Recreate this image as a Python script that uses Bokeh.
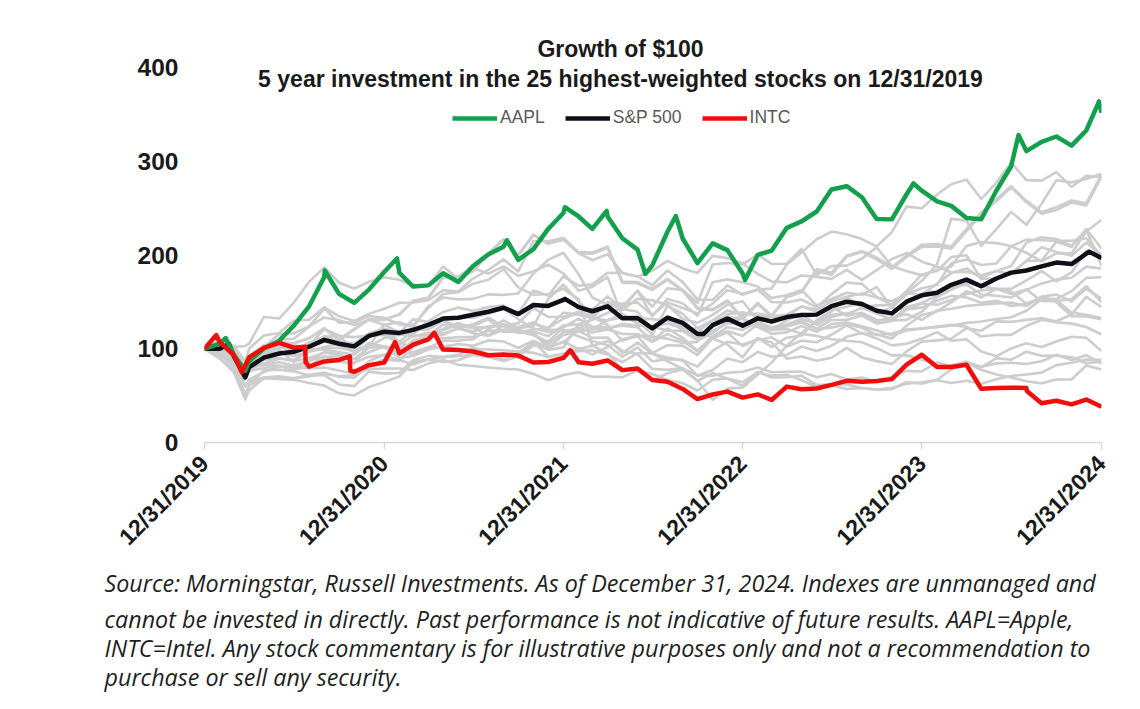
import math
import pandas as pd
from bokeh.plotting import figure
from bokeh.models import (ColumnDataSource, FixedTicker, Label, Legend, LegendItem,
                          Range1d, DatetimeTickFormatter, Title)
from bokeh.embed import file_html
from bokeh.resources import INLINE

# ---------------- data: growth of $100, month ends 12/2019 ... 12/2024 ----------------
AAPL = [100.0,
        105.4, 93.2, 86.7, 100.3, 108.6, 124.6, 145.3, 176.5, 158.5, 149.0, 163.1, 181.8,
        180.9, 166.3, 167.6, 180.5, 171.2, 188.2, 200.6, 208.9, 194.8, 206.3, 227.8, 244.8,
        241.1, 227.9, 241.1, 217.8, 205.7, 189.0, 224.8, 217.6, 191.4, 212.4, 205.2, 180.2,
        200.2, 204.6, 229.0, 235.8, 246.4, 269.8, 273.4, 261.6, 238.5, 238.0, 264.8, 268.6,
        257.3, 252.4, 239.5, 238.1, 268.8, 294.7, 310.8, 320.7, 326.4, 316.7, 332.8, 351.7]
AAPL_extra_dates = ["2020-02-12", "2020-03-23", "2020-09-01", "2021-01-26", "2021-09-07",
                    "2022-01-03", "2022-03-29", "2022-06-16", "2022-08-17", "2023-01-05",
                    "2023-12-14", "2024-07-15", "2024-12-26"]
AAPL_extra = [111.4, 76.5, 183.5, 196.3, 215.7, 251.0, 247.1, 179.8, 241.6, 173.4,
              276.3, 328.0, 363.8]

SPX = [100.0,
       100.0, 91.7, 80.3, 90.6, 94.9, 96.7, 102.2, 109.5, 105.3, 102.5, 113.7, 118.1,
       116.9, 120.1, 125.4, 132.2, 133.1, 136.2, 139.5, 143.7, 137.0, 146.7, 145.7, 152.2,
       144.4, 140.0, 145.2, 132.6, 132.8, 121.8, 133.1, 127.6, 115.8, 125.2, 132.1, 124.5,
       132.4, 129.1, 133.8, 135.9, 136.4, 145.4, 150.1, 147.7, 140.6, 137.7, 150.2, 157.0,
       159.7, 168.2, 173.7, 166.7, 174.9, 181.2, 183.5, 187.9, 191.9, 190.3, 201.4, 196.7]
SPX_extra_dates = ["2020-02-19", "2020-03-23", "2022-01-03", "2022-10-12", "2024-12-06"]
SPX_extra = [105.1, 69.5, 153.2, 115.7, 203.5]

INTC = [100.0,
        107.0, 93.1, 91.0, 101.0, 106.2, 101.2, 80.9, 86.5, 88.1, 75.5, 82.5, 85.2,
        95.1, 104.3, 110.0, 99.1, 98.6, 97.1, 93.1, 93.9, 92.7, 85.4, 85.9, 90.2,
        85.7, 84.0, 87.5, 77.2, 78.9, 66.6, 64.9, 57.1, 46.3, 51.2, 54.3, 47.9,
        51.3, 45.4, 59.6, 56.8, 57.6, 61.4, 65.8, 64.8, 65.7, 67.6, 83.0, 93.6,
        80.5, 80.6, 82.9, 57.3, 58.1, 58.5, 58.1, 41.8, 44.5, 40.7, 45.8, 38.2]
INTC_extra_dates = ["2020-01-24", "2020-03-16", "2020-07-23", "2020-07-24", "2020-10-22",
                    "2020-10-23", "2021-01-22", "2021-04-12", "2022-01-14", "2024-08-01"]
INTC_extra = [114.6, 75.0, 102.2, 85.6, 91.9, 76.7, 107.0, 117.0, 98.5, 55.0]

# the other 23 of the 25 highest-weighted stocks (grey)
MSFT = [100,
        108.1, 102.9, 100.3, 114.1, 116.8, 129.8, 130.9, 144.2, 134.6, 129.7, 137.2, 142.7,
        149.0, 149.4, 151.7, 162.5, 161.0, 174.9, 184.1, 195.3, 182.5, 214.9, 214.5, 218.4,
        202.1, 194.4, 200.8, 180.9, 177.4, 167.7, 183.5, 171.1, 152.6, 152.2, 167.5, 157.5,
        163.0, 164.2, 189.9, 202.6, 216.8, 225.0, 222.2, 217.0, 209.2, 224.3, 251.6, 249.9,
        264.5, 275.4, 280.4, 259.7, 277.2, 298.7, 279.9, 279.3, 288.4, 272.6, 284.4, 283.3]
AMZN = [100,
        108.7, 101.9, 105.5, 133.9, 132.2, 149.3, 171.3, 186.8, 170.4, 164.3, 171.4, 176.3,
        173.5, 167.4, 167.4, 187.7, 174.4, 186.2, 180.1, 187.8, 177.8, 182.5, 189.8, 180.5,
        161.9, 166.2, 176.4, 134.5, 130.1, 115.0, 146.1, 137.2, 122.3, 110.9, 104.5, 90.9,
        111.6, 102.0, 111.8, 114.1, 130.5, 141.1, 144.7, 149.4, 137.6, 144.1, 158.1, 164.5,
        168.0, 191.3, 195.2, 189.4, 191.0, 209.2, 202.4, 193.2, 201.7, 201.8, 225.0, 237.5]
META = [100,
        98.4, 93.8, 81.3, 99.7, 109.7, 110.6, 123.6, 142.8, 127.6, 128.2, 134.9, 133.1,
        125.9, 125.5, 143.5, 158.4, 160.2, 169.4, 173.6, 184.8, 165.4, 157.6, 158.1, 163.9,
        152.6, 102.8, 108.3, 97.7, 94.3, 78.6, 77.5, 79.4, 66.1, 45.4, 57.5, 58.6,
        72.6, 85.2, 103.3, 117.1, 129.0, 139.8, 155.2, 144.2, 146.3, 146.8, 159.4, 172.5,
        190.1, 238.8, 236.6, 209.8, 227.7, 246.0, 232.2, 254.7, 279.8, 277.5, 281.0, 286.8]
BRKB = [100,
        99.1, 91.1, 80.7, 82.7, 81.9, 78.8, 86.4, 96.3, 94.0, 89.1, 101.2, 102.4,
        100.6, 106.2, 112.8, 121.4, 127.6, 122.7, 122.9, 126.2, 120.5, 126.7, 122.2, 132.0,
        138.2, 142.0, 155.8, 142.5, 139.5, 120.5, 132.5, 124.0, 117.9, 130.3, 140.7, 136.4,
        137.5, 134.7, 136.3, 145.1, 141.7, 150.6, 155.4, 159.0, 154.7, 150.7, 158.9, 157.5,
        169.4, 180.7, 185.7, 175.2, 183.0, 179.6, 193.6, 208.3, 203.2, 199.1, 213.3, 200.1]
JPM = [100,
       95.2, 83.7, 65.1, 69.4, 70.6, 68.5, 70.5, 73.3, 70.6, 72.0, 86.8, 93.8,
       95.2, 109.1, 113.1, 114.6, 122.6, 116.4, 113.9, 120.3, 123.3, 128.3, 120.2, 120.1,
       113.0, 108.1, 104.1, 91.4, 101.5, 86.6, 88.9, 87.9, 80.9, 97.7, 107.5, 104.5,
       109.3, 112.2, 102.2, 108.7, 106.9, 114.9, 125.0, 116.1, 115.3, 110.8, 124.6, 136.1,
       139.8, 149.5, 161.3, 154.7, 163.9, 163.9, 172.8, 182.9, 172.0, 181.4, 204.5, 196.7]
GOOGL = [100,
         107.0, 100.0, 86.8, 100.6, 106.7, 105.9, 111.1, 121.7, 109.4, 120.7, 131.0, 130.8,
         136.4, 151.0, 154.0, 175.7, 176.0, 182.3, 201.2, 216.1, 199.6, 221.1, 211.9, 216.3,
         202.0, 201.4, 207.7, 170.4, 169.9, 162.7, 173.7, 161.6, 142.8, 141.1, 150.8, 131.7,
         147.6, 134.5, 154.9, 160.3, 183.5, 178.7, 198.2, 203.3, 195.4, 185.3, 197.9, 208.6,
         209.2, 206.7, 225.4, 243.1, 257.6, 272.3, 256.3, 244.1, 248.0, 255.9, 252.8, 283.4]
GOOG = [100,
        107.2, 100.2, 87.0, 100.6, 106.9, 105.8, 111.3, 121.9, 109.7, 121.0, 131.4, 131.1,
        136.8, 151.3, 154.7, 176.1, 177.3, 187.6, 202.0, 216.8, 200.2, 221.8, 212.6, 216.6,
        203.1, 202.5, 209.0, 171.6, 171.1, 163.8, 174.7, 162.6, 143.9, 141.9, 151.5, 132.8,
        148.9, 135.4, 155.6, 161.0, 184.9, 181.0, 199.2, 204.3, 197.3, 187.0, 199.5, 211.0,
        211.6, 208.9, 228.0, 245.4, 259.4, 273.4, 257.7, 245.7, 251.0, 258.1, 255.2, 285.8]
JNJ = [100,
       102.4, 92.7, 90.6, 104.0, 103.4, 97.9, 101.8, 107.5, 104.5, 96.5, 102.2, 111.4,
       115.7, 112.7, 117.3, 116.4, 121.3, 118.4, 124.0, 125.1, 117.0, 118.3, 113.5, 124.9,
       126.1, 120.7, 130.4, 133.1, 132.7, 131.6, 129.6, 120.1, 122.0, 130.3, 133.6, 132.8,
       123.2, 115.9, 117.5, 124.3, 118.1, 126.3, 128.1, 124.0, 119.8, 114.3, 119.5, 121.4,
       123.3, 125.5, 123.4, 113.0, 114.9, 114.8, 124.2, 130.9, 128.2, 126.8, 123.2, 115.2]
V = [100,
     106.0, 96.9, 85.9, 95.4, 104.3, 103.3, 101.9, 113.5, 107.1, 97.5, 113.0, 117.6,
     103.8, 114.2, 114.1, 125.9, 122.7, 126.1, 133.1, 123.9, 120.5, 114.7, 105.0, 117.5,
     122.8, 117.4, 120.6, 115.9, 115.5, 107.3, 115.7, 108.4, 97.0, 113.3, 118.7, 113.8,
     126.2, 120.6, 123.7, 127.9, 121.5, 130.7, 130.8, 135.4, 126.8, 129.7, 141.8, 143.9,
     151.1, 156.4, 154.6, 149.0, 151.1, 145.7, 147.6, 153.7, 153.0, 161.4, 175.6, 176.3]
PG = [100,
      100.0, 91.1, 88.7, 95.3, 93.9, 97.1, 106.8, 112.8, 113.7, 112.4, 114.1, 114.6,
      105.8, 102.3, 112.3, 110.9, 112.4, 112.6, 119.1, 119.5, 117.5, 120.6, 122.2, 138.6,
      136.2, 132.5, 130.2, 137.1, 126.7, 123.4, 119.4, 118.9, 109.1, 116.6, 129.4, 131.7,
      123.9, 120.1, 130.2, 137.2, 125.3, 133.8, 138.0, 136.7, 129.4, 133.3, 136.8, 130.8,
      140.6, 142.6, 145.7, 147.0, 148.4, 149.2, 145.7, 155.7, 157.7, 150.6, 163.9, 153.5]
XOM = [100,
       89.7, 74.8, 55.6, 68.6, 67.6, 67.0, 63.5, 60.7, 52.5, 50.2, 59.2, 64.4,
       70.4, 85.8, 88.6, 91.2, 93.5, 101.6, 93.2, 88.7, 96.1, 105.9, 98.8, 101.5,
       126.4, 130.9, 138.3, 143.2, 161.8, 144.8, 164.5, 162.6, 149.0, 189.8, 191.4, 190.0,
       200.6, 190.4, 190.7, 206.4, 178.6, 188.1, 188.7, 196.1, 208.1, 188.0, 182.8, 178.5,
       184.1, 187.8, 209.6, 213.9, 212.7, 209.4, 216.4, 215.8, 215.2, 215.1, 217.8, 199.4]
T = [100,
     96.9, 91.2, 75.9, 79.8, 81.3, 80.1, 78.9, 79.9, 76.9, 73.3, 78.4, 78.9,
     79.0, 77.4, 84.4, 88.1, 83.0, 81.6, 80.0, 78.6, 77.8, 73.2, 66.4, 72.0,
     75.0, 70.1, 70.3, 69.4, 76.9, 73.1, 66.7, 63.2, 55.5, 67.0, 68.3, 64.4,
     74.9, 71.3, 72.3, 66.5, 58.9, 60.8, 57.1, 58.2, 56.6, 58.1, 62.7, 64.3,
     66.5, 63.4, 65.9, 62.7, 67.5, 70.9, 72.6, 74.5, 82.5, 85.1, 88.6, 88.2]
BAC = [100,
       93.4, 81.3, 60.8, 69.0, 69.4, 68.5, 71.9, 74.6, 70.0, 69.0, 82.2, 88.7,
       87.1, 102.0, 114.1, 119.9, 125.6, 122.6, 114.2, 124.7, 127.1, 143.3, 133.9, 134.1,
       139.5, 134.0, 125.2, 108.7, 113.5, 95.3, 103.8, 103.3, 93.1, 111.3, 117.3, 102.8,
       110.4, 107.0, 89.4, 91.7, 87.3, 90.4, 101.0, 90.7, 86.8, 83.8, 97.2, 107.6,
       108.9, 110.7, 122.0, 119.3, 129.2, 128.7, 130.8, 132.6, 129.4, 136.6, 155.5, 144.3]
MA = [100,
      105.9, 97.4, 81.1, 92.4, 101.2, 99.5, 103.9, 120.8, 114.2, 97.6, 113.8, 120.7,
      107.1, 119.9, 120.7, 129.8, 122.6, 124.3, 131.4, 118.0, 118.5, 114.5, 107.6, 122.8,
      132.2, 123.6, 122.5, 124.6, 122.9, 108.4, 121.7, 111.6, 98.0, 113.2, 123.0, 120.1,
      128.1, 122.9, 125.8, 131.8, 126.7, 136.6, 136.9, 143.5, 137.8, 131.0, 144.3, 148.8,
      157.0, 166.0, 168.4, 157.9, 156.6, 154.6, 162.8, 169.7, 173.7, 175.7, 187.6, 185.6]
UNH = [100,
       92.9, 87.0, 85.2, 100.1, 104.5, 101.3, 104.1, 107.7, 107.6, 105.5, 116.5, 121.6,
       115.9, 115.5, 129.6, 139.2, 143.9, 140.2, 144.4, 146.1, 137.4, 162.1, 156.7, 177.3,
       167.2, 168.7, 181.0, 180.8, 176.8, 183.1, 193.7, 185.7, 180.9, 199.1, 196.7, 190.9,
       179.8, 171.8, 170.8, 178.1, 176.7, 174.5, 184.2, 173.4, 183.8, 195.7, 202.2, 192.9,
       187.7, 181.3, 182.1, 178.3, 182.8, 188.2, 213.2, 218.9, 217.0, 209.9, 227.0, 188.6]
DIS = [100,
       95.6, 81.3, 67.2, 75.2, 81.6, 77.6, 81.3, 91.7, 86.3, 84.3, 103.0, 126.0,
       117.0, 131.5, 128.4, 129.4, 124.3, 122.3, 122.4, 126.1, 117.7, 117.6, 100.8, 107.7,
       99.5, 103.3, 95.4, 77.7, 76.8, 65.7, 73.8, 78.0, 65.6, 74.1, 68.1, 60.4,
       75.5, 69.3, 69.6, 71.3, 61.2, 62.1, 61.8, 58.2, 56.4, 56.8, 64.5, 62.8,
       67.0, 77.8, 85.4, 77.5, 72.5, 69.3, 65.4, 63.1, 67.2, 67.2, 82.1, 77.9]
VZ = [100,
      97.3, 89.1, 88.8, 95.5, 95.8, 92.4, 96.8, 100.3, 101.2, 97.3, 103.7, 101.3,
      94.9, 96.3, 101.7, 101.4, 99.6, 99.3, 99.2, 98.4, 97.1, 95.6, 91.2, 94.6,
      97.4, 98.5, 94.0, 85.7, 95.4, 94.9, 86.6, 78.8, 71.8, 71.1, 74.4, 75.5,
      80.0, 75.0, 75.4, 75.6, 69.7, 73.1, 67.2, 69.3, 64.5, 70.1, 76.4, 75.8,
      85.6, 81.2, 85.4, 80.7, 84.4, 85.0, 83.8, 86.6, 93.5, 88.1, 93.1, 84.2]
HD = [100,
      104.8, 100.2, 86.2, 101.8, 115.4, 116.5, 123.9, 133.4, 130.3, 125.4, 130.8, 125.5,
      128.3, 122.8, 145.5, 154.6, 152.7, 153.2, 158.0, 157.5, 158.9, 180.2, 194.8, 202.4,
      179.4, 154.7, 147.1, 148.1, 149.3, 135.8, 149.4, 143.5, 137.6, 148.1, 162.5, 158.6,
      163.2, 149.8, 149.3, 152.5, 144.2, 158.3, 170.6, 169.2, 155.3, 146.6, 161.8, 179.3,
      182.9, 197.8, 199.8, 174.4, 175.2, 180.6, 193.6, 194.2, 214.1, 208.6, 227.7, 207.0]
CVX = [100,
       89.3, 78.1, 60.8, 77.5, 77.7, 75.9, 71.7, 71.9, 61.9, 60.1, 75.6, 73.5,
       74.4, 87.7, 92.4, 91.1, 92.1, 93.3, 91.1, 86.9, 91.4, 103.5, 102.5, 106.9,
       120.2, 132.3, 150.1, 145.0, 162.1, 134.9, 153.2, 148.4, 135.3, 171.0, 174.0, 170.9,
       166.3, 154.2, 157.1, 162.8, 146.0, 153.1, 159.7, 157.6, 165.8, 143.8, 142.2, 148.2,
       146.9, 152.0, 158.3, 162.3, 163.9, 158.5, 163.3, 150.9, 150.8, 152.9, 166.8, 149.8]
MRK = [100,
       94.2, 84.7, 85.4, 88.3, 90.2, 86.6, 90.1, 96.1, 93.8, 85.3, 91.4, 93.2,
       88.1, 83.2, 88.8, 86.0, 87.8, 93.8, 92.9, 92.9, 91.9, 107.7, 91.8, 94.1,
       100.5, 93.7, 102.1, 109.8, 114.2, 112.9, 110.8, 106.1, 107.2, 125.9, 136.7, 138.9,
       135.1, 133.6, 133.7, 145.4, 139.4, 145.4, 134.9, 138.3, 130.9, 130.3, 130.8, 139.5,
       154.9, 163.0, 170.2, 167.0, 163.7, 161.1, 148.0, 155.1, 149.5, 134.8, 134.4, 131.5]
KO = [100,
      105.8, 97.2, 80.6, 83.9, 85.6, 82.2, 87.1, 91.6, 91.6, 89.4, 96.3, 102.7,
      90.4, 92.2, 99.5, 102.2, 105.0, 103.1, 108.9, 107.8, 100.8, 108.5, 101.2, 114.7,
      118.5, 121.2, 121.1, 126.5, 124.5, 123.9, 126.7, 122.2, 111.2, 119.1, 127.0, 127.3,
      123.1, 119.8, 125.2, 129.8, 121.1, 122.5, 126.3, 122.4, 114.7, 116.2, 120.5, 121.8,
      123.3, 124.7, 127.4, 129.0, 131.8, 133.6, 140.5, 152.9, 152.0, 138.5, 136.2, 132.8]
PFE = [100,
       95.3, 85.9, 84.1, 99.2, 99.2, 85.2, 100.5, 99.0, 96.5, 93.6, 106.4, 102.5,
       99.7, 93.3, 101.2, 108.2, 108.7, 110.1, 120.7, 130.2, 121.9, 124.2, 153.0, 168.5,
       150.7, 134.6, 148.8, 141.4, 153.3, 151.8, 146.6, 131.7, 127.7, 136.1, 147.0, 150.6,
       130.3, 120.1, 121.2, 115.9, 113.7, 110.1, 108.6, 106.9, 100.6, 92.9, 93.0, 88.2,
       83.4, 82.2, 86.3, 80.1, 90.0, 88.3, 96.9, 92.5, 92.7, 91.0, 84.7, 86.2]
CMCSA = [100,
         96.3, 90.4, 77.1, 84.6, 89.3, 88.2, 97.1, 101.8, 105.5, 96.5, 115.2, 120.5,
         114.2, 121.9, 125.4, 130.5, 133.6, 133.1, 137.7, 142.5, 131.7, 121.5, 118.2, 119.4,
         119.0, 111.6, 112.0, 95.3, 106.5, 94.6, 90.7, 87.7, 71.2, 77.3, 89.5, 85.7,
         96.6, 91.5, 93.5, 102.3, 97.6, 103.3, 112.7, 116.8, 111.0, 103.6, 105.4, 110.6,
         117.7, 108.6, 110.2, 97.1, 92.0, 100.3, 105.9, 101.8, 107.8, 112.8, 111.8, 97.5]
others = [MSFT, AMZN, META, BRKB, JPM, GOOGL, GOOG, JNJ, V, PG, XOM, T, BAC, MA, UNH,
          DIS, VZ, HD, CVX, MRK, KO, PFE, CMCSA]
# 3/23/2020 trough, same order as `others`
others_trough_date = "2020-03-23"
others_trough = [86.2, 103.0, 72.2, 71.6, 61.3, 78.9, 79.3, 76.6, 74.7, 78.3, 46.0, 71.6,
                 51.6, 70.3, 67.0, 59.3, 80.3, 67.2, 47.8, 73.8, 68.4, 74.1, 71.1]

tick_dates = ["2019-12-31", "2020-12-31", "2021-12-31", "2022-12-31", "2023-12-31", "2024-12-31"]
y_ticks = [0, 100, 200, 300, 400]

title1 = "Growth of $100"
title2 = "5 year investment in the 25 highest-weighted stocks on 12/31/2019"
footnote = [
    "Source: Morningstar, Russell Investments. As of December 31, 2024. Indexes are unmanaged and",
    "cannot be invested in directly. Past performance is not indicative of future results. AAPL=Apple,",
    "INTC=Intel. Any stock commentary is for illustrative purposes only and not a recommendation to",
    "purchase or sell any security.",
]

# ---------------- build ----------------
month_end = pd.date_range("2019-12-31", "2024-12-31", freq="ME")


def make_source(vals, extra_dates, extra_vals):
    s = pd.Series(vals, index=month_end)
    e = pd.Series(extra_vals, index=pd.to_datetime(extra_dates))
    s = pd.concat([s, e]).sort_index()
    return ColumnDataSource(dict(x=s.index, y=s.values))


FONT = "Liberation Sans"
GREEN, BLACK, RED, GRAY = "#12a04d", "#0e0f17", "#f20d0d", "#cdcdcd"

W, H = 1140, 709
TOP, BOTTOM = 20, 442          # frame top / bottom in page pixels
Y400 = 67                      # page pixel of the 400 label
y_end = 400 * (BOTTOM - TOP) / (BOTTOM - Y400)

p = figure(width=W, height=H, x_axis_type="datetime",
           x_range=Range1d(pd.Timestamp("2019-12-31"), pd.Timestamp("2024-12-31")),
           y_range=Range1d(0, y_end),
           output_backend="svg", toolbar_location=None,
           min_border_left=204, min_border_right=39, min_border_top=TOP,
           min_border_bottom=H - BOTTOM)
p.outline_line_color = None
p.xgrid.visible = False
p.ygrid.visible = False
p.background_fill_color = "white"
p.border_fill_color = "white"

for vals, trough in zip(others, others_trough):
    p.line(source=make_source(vals, [others_trough_date], [trough]), x="x", y="y",
           line_color=GRAY, line_width=2.6, line_join="round")

r_spx = p.line(source=make_source(SPX, SPX_extra_dates, SPX_extra), x="x", y="y",
               line_color=BLACK, line_width=4.5, line_join="round")
r_aapl = p.line(source=make_source(AAPL, AAPL_extra_dates, AAPL_extra), x="x", y="y",
                line_color=GREEN, line_width=4.5, line_join="round")
r_intc = p.line(source=make_source(INTC, INTC_extra_dates, INTC_extra), x="x", y="y",
                line_color=RED, line_width=4.5, line_join="round")

# axes
tick_ms = [pd.Timestamp(d).timestamp() * 1000 for d in tick_dates]
p.xaxis.ticker = FixedTicker(ticks=tick_ms)
p.xaxis.formatter = DatetimeTickFormatter(days="%m/%d/%Y", months="%m/%d/%Y", years="%m/%d/%Y")
p.xaxis.major_label_orientation = math.pi / 4
p.xaxis.major_label_text_font = FONT
p.xaxis.major_label_text_font_style = "bold"
p.xaxis.major_label_text_font_size = "23px"
p.xaxis.major_label_text_color = "#1a1a1a"
p.xaxis.axis_line_color = "#d9d9d9"
p.xaxis.axis_line_width = 1.5
p.xaxis.major_tick_line_color = "#d9d9d9"
p.xaxis.major_tick_line_width = 1.5
p.xaxis.major_tick_out = 7
p.xaxis.major_tick_in = 0
p.xaxis.minor_tick_line_color = None
p.xaxis.major_label_standoff = 10

p.yaxis.ticker = FixedTicker(ticks=y_ticks)
p.yaxis.major_label_text_font = FONT
p.yaxis.major_label_text_font_style = "bold"
p.yaxis.major_label_text_font_size = "24.5px"
p.yaxis.major_label_text_color = "#1a1a1a"
p.yaxis.axis_line_color = None
p.yaxis.major_tick_line_color = None
p.yaxis.minor_tick_line_color = None
p.yaxis.major_label_standoff = 20

# legend
legend = Legend(items=[LegendItem(label="AAPL", renderers=[r_aapl]),
                       LegendItem(label="S&P 500", renderers=[r_spx]),
                       LegendItem(label="INTC", renderers=[r_intc])],
                orientation="horizontal", location=(248, 314),
                glyph_width=45, glyph_height=20, label_standoff=3, spacing=20,
                padding=0, margin=0, background_fill_alpha=0, border_line_alpha=0,
                label_text_font=FONT, label_text_font_size="17.5px",
                label_text_color="#595959")
p.add_layout(legend)

# chart titles (screen units relative to the plot frame: left=204, bottom=442)
FL = 204
for txt, base in ((title1, 48), (title2, 78)):
    p.add_layout(Label(x=620 - FL, y=BOTTOM - base, x_units="screen", y_units="screen",
                       text=txt, text_align="center", text_baseline="alphabetic",
                       text_font=FONT, text_font_style="bold", text_font_size="23px",
                       text_color="#1a1a1a"))

# footnote lines below the x axis
for i, line in enumerate(footnote):
    p.add_layout(Title(text=line, align="left", vertical_align="top", offset=104 - FL,
                       standoff=(9 if i == 0 else -5.5),
                       text_font="Open Sans", text_font_style="italic",
                       text_font_size="23.3px", text_color="#1f1f1f"), "below")

open("out.html", "w").write(file_html(p, INLINE))
